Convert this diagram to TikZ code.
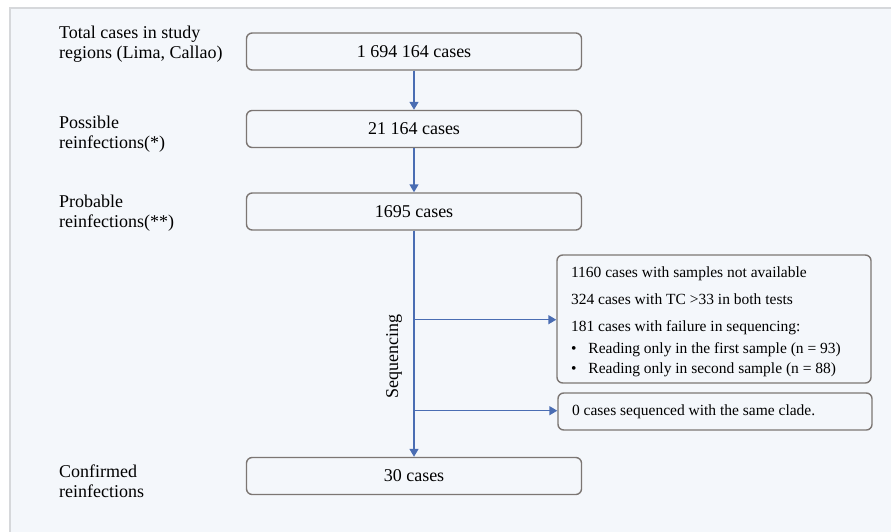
\documentclass[tikz,border=0pt]{standalone}
\usepackage{fontspec}
\setmainfont{Liberation Serif}
\usetikzlibrary{arrows.meta}
\definecolor{panelbg}{HTML}{F4F7FB}
\definecolor{panelline}{HTML}{D6D8DB}
\definecolor{boxline}{HTML}{7C7673}
\definecolor{flowblue}{HTML}{4A6DB3}
\begin{document}
\begin{tikzpicture}[x=1pt,y=-1pt]
            \tikzset{s/.style={draw=boxline,line width=1.4pt,rectangle,minimum width=335pt,minimum height=37pt,rounded corners=2mm,inner sep=0pt,font=\fontsize{18}{20}\selectfont},
                l/.style={anchor=west,align=left,inner sep=0pt,font=\fontsize{18}{20.5}\selectfont},
                f/.style={-{Triangle[width=9pt,length=8pt]},draw=flowblue,fill=flowblue,line width=1.4pt}}
            \useasboundingbox(0,0)rectangle(891,532);
            \fill[panelbg](10,8)rectangle(891,532);
            \draw[panelline,line width=2pt](10,532)--(10,8)--(891,8);
            % cajas centrales
            \path(414,51.5)node[s](N1){1 694 164 cases};
            \path(414,129)node[s](N2){21 164 cases};
            \path(414,211.5)node[s](N3){1695 cases};
            \path(414,476)node[s](N4){30 cases};
            % etiquetas a la izquierda
            \path(59,44)node[l](L1){Total cases in study\\regions (Lima, Callao)};
            \path(59,134)node[l](L2){Possible\\reinfections(*)};
            \path(59,213)node[l](L3){Probable\\reinfections(**)};
            \path(59,481)node[l](L4){Confirmed\\reinfections};
            % exclusiones
            \path(714,319)node[s,minimum width=314pt,minimum height=128pt,align=left,font=\fontsize{15.5}{20}\selectfont](E1){\parbox{286pt}{\vspace*{6pt}%
                1160 cases with samples not available\\[7pt]
                324 cases with TC >33 in both tests\\[7pt]
                181 cases with failure in sequencing:\\[2pt]
                \textbullet\hspace{12pt}Reading only in the first sample (n = 93)\\
                \textbullet\hspace{12pt}Reading only in second sample (n = 88)}};
            \path(715,411.5)node[s,minimum width=314pt,font=\fontsize{15.5}{19}\selectfont](E2){\parbox{286pt}{0 cases sequenced with the same clade.}};
            \path(N3.south)++(0,89)coordinate(c1)++(0,91)coordinate(c2);
            \path(N3.south)++(-20,126)node[rotate=90,inner sep=0pt,font=\fontsize{18}{20}\selectfont](Sq){Sequencing};
            \foreach \x/\y in {
                N1/N2,N2/N3,
                N3/N4}
            \draw[f](\x.south)--(\y.north);
            \draw[f](c1)--(E1.west|-c1);
            \draw[f](c2)--(E2.west|-c2);
        \end{tikzpicture}
\end{document}
